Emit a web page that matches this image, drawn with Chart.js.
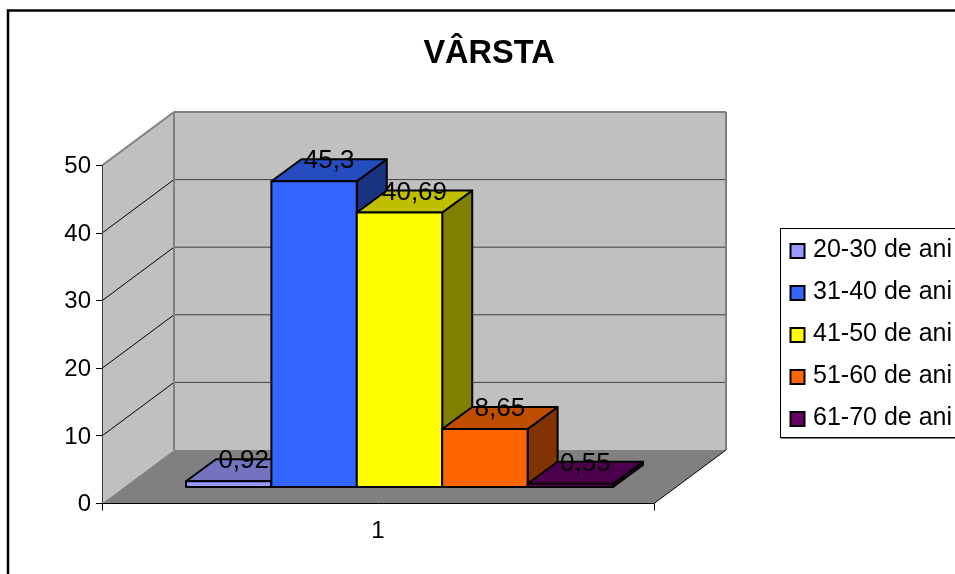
<!DOCTYPE html>
<html><head><meta charset="utf-8">
<style>html,body{margin:0;padding:0;background:#fff;overflow:hidden;width:955px;height:574px}</style>
<script src="https://cdn.jsdelivr.net/npm/chart.js@4/dist/chart.umd.js"></script>
</head><body><canvas id="c" width="978" height="574"></canvas>
<script>
const titleText = 'VÂRSTA';
const categories = ['1'];
const seriesNames = ['20-30 de ani','31-40 de ani','41-50 de ani','51-60 de ani','61-70 de ani'];
const seriesValues = [0.92, 45.3, 40.69, 8.65, 0.55];
const seriesColors = ['#9999FF','#3366FF','#FFFF00','#FF6600','#660066'];
const yTicks = [0,10,20,30,40,50];

const FONT = '"Liberation Sans", Arial, sans-serif';
const WALL = {dx:72, dy:-53.5};
const BAR_OFFSET = {dx:21.5, dy:-16};
const BAR_DEPTH = {dx:30, dy:-22};

function shade(hex,f){
  const n=parseInt(hex.slice(1),16);
  return 'rgb('+[(n>>16)&255,(n>>8)&255,n&255].map(v=>Math.round(v*f)).join(',')+')';
}
function poly(ctx,pts,fill,stroke,lw){
  ctx.beginPath();
  pts.forEach((p,i)=>i?ctx.lineTo(p[0],p[1]):ctx.moveTo(p[0],p[1]));
  ctx.closePath();
  if(fill){ctx.fillStyle=fill;ctx.fill();}
  if(stroke){ctx.strokeStyle=stroke;ctx.lineWidth=lw;ctx.stroke();}
}
function line(ctx,x0,y0,x1,y1,c,lw){
  ctx.beginPath();ctx.moveTo(x0,y0);ctx.lineTo(x1,y1);ctx.strokeStyle=c;ctx.lineWidth=lw;ctx.stroke();
}
const scene = {
  id:'scene',
  beforeDraw(chart){
    const ctx=chart.ctx, y=chart.scales.y, x=chart.scales.x;
    const L=x.left,R=x.right,T=y.getPixelForValue(50),B=y.getPixelForValue(0);
    const dx=WALL.dx,dy=WALL.dy;
    ctx.save();
    ctx.fillStyle='#fff';ctx.fillRect(0,0,chart.width,chart.height);
    ctx.strokeStyle='#000';ctx.lineWidth=2.5;ctx.strokeRect(8,10.5,1200,800);
    // legend, drawn from the series names and colours
    ctx.fillStyle='#808080';ctx.fillRect(781,230,300,209);
    ctx.fillStyle='#fff';ctx.fillRect(780.5,228.5,300,209);
    ctx.strokeStyle='#000';ctx.lineWidth=1;ctx.strokeRect(780.5,228.5,300,209);
    ctx.font='25px '+FONT;ctx.textAlign='left';ctx.textBaseline='middle';
    seriesNames.forEach((n,i)=>{
      const cy=251+i*42;
      ctx.fillStyle=seriesColors[i];ctx.fillRect(790.5,cy-7,14,14);
      ctx.strokeStyle='#000';ctx.lineWidth=2;ctx.strokeRect(790.5,cy-7,14,14);
      ctx.fillStyle='#000';ctx.fillText(n,813,cy-1);
    });
    // walls and floor
    poly(ctx,[[L+dx,T+dy],[R+dx,T+dy],[R+dx,B+dy],[L+dx,B+dy]],'#C0C0C0');
    poly(ctx,[[L,T],[L+dx,T+dy],[L+dx,B+dy],[L,B]],'#C0C0C0');
    poly(ctx,[[L,B],[R,B],[R+dx,B+dy],[L+dx,B+dy]],'#808080');
    yTicks.forEach(v=>{
      if(v===0||v===50) return;
      const p=y.getPixelForValue(v);
      line(ctx,L,p,L+dx,p+dy,'#000',1);
      line(ctx,L+dx,p+dy,R+dx,p+dy,'#404040',1);
    });
    line(ctx,L,T,L+dx,T+dy,'#808080',2);
    line(ctx,L+dx,T+dy,R+dx,T+dy,'#808080',2);
    line(ctx,R+dx,T+dy,R+dx,B+dy,'#808080',2);
    line(ctx,L+dx,T+dy,L+dx,B+dy,'#808080',2);
    line(ctx,R,B,R+dx,B+dy,'#000',1);
    ctx.restore();
  },
  beforeDatasetsDraw(chart){
    const ctx=chart.ctx, d=BAR_DEPTH.dx, e=BAR_DEPTH.dy;
    // painter's order: leftmost bar first, each one drawn by its own controller
    chart.data.datasets.forEach((ds,i)=>{
      const meta=chart.getDatasetMeta(i), el=meta.data[0], col=seriesColors[i];
      ctx.save();
      ctx.translate(BAR_OFFSET.dx,BAR_OFFSET.dy);
      const l=el.x-el.width/2,r=el.x+el.width/2,t=el.y,b=el.base;
      ctx.lineJoin='round';
      poly(ctx,[[r,t],[r+d,t+e],[r+d,b+e],[r,b]],shade(col,0.5),'#000',2);
      poly(ctx,[[l,t],[r,t],[r+d,t+e],[l+d,t+e]],shade(col,0.75),'#000',2);
      meta.controller.draw();
      poly(ctx,[[l,t],[r,t],[r,b],[l,b]],null,'#000',2);
      ctx.restore();
    });
    ctx.save();
    ctx.font='26px '+FONT;ctx.fillStyle='#000';ctx.textAlign='center';ctx.textBaseline='middle';
    chart.data.datasets.forEach((ds,i)=>{
      const el=chart.getDatasetMeta(i).data[0];
      const tx=el.x+BAR_OFFSET.dx+d/2, ty=el.y+BAR_OFFSET.dy+e;
      ctx.fillText(String(ds.data[0]).replace('.',','),tx,ty+2);
    });
    ctx.restore();
    return false;
  }
};
new Chart(document.getElementById('c'),{
  type:'bar',
  data:{
    labels:categories,
    datasets:seriesNames.map((n,i)=>({
      label:n,data:[seriesValues[i]],backgroundColor:seriesColors[i],
      borderWidth:0,
      categoryPercentage:0.7736,barPercentage:1
    }))
  },
  options:{
    responsive:false,animation:false,
    layout:{padding:0},
    plugins:{
      tooltip:{enabled:false},
      legend:{display:false},
      title:{display:true,text:titleText,color:'#000',font:{family:FONT,size:32.5,weight:'bold'},padding:{top:35,bottom:91.5}}
    },
    scales:{
      x:{offset:true,
        afterFit(s){s.height=70.5;},
        grid:{drawOnChartArea:false,color:'#000',tickLength:7,offset:true},
        border:{color:'#000',width:1},
        ticks:{color:'#000',font:{family:FONT,size:24},padding:6}},
      y:{min:0,max:50,
        afterFit(s){s.width=102;},
        afterBuildTicks(s){s.ticks=yTicks.map(v=>({value:v}));},
        grid:{drawOnChartArea:false,color:'#000',tickLength:6},
        border:{color:'#404040',width:1},
        ticks:{color:'#000',font:{family:FONT,size:24},padding:5,labelOffset:1}},
      pad:{position:'right',display:true,grid:{display:false},border:{display:false},ticks:{display:false},
        afterFit(s){s.width=324;}}
    }
  },
  plugins:[scene]
});
</script></body></html>
